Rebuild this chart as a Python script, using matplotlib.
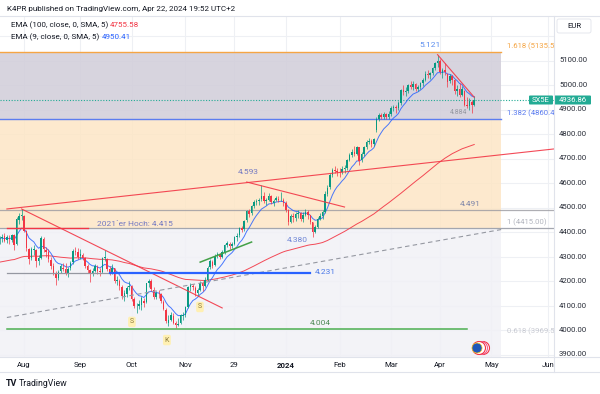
import numpy as np
import pandas as pd
import matplotlib
matplotlib.use('Agg')
import matplotlib.pyplot as plt
from matplotlib.patches import Circle, FancyBboxPatch, Rectangle
from matplotlib.lines import Line2D
from matplotlib.transforms import IdentityTransform, blended_transform_factory

plt.rcParams['font.family'] = ['Roboto', 'DejaVu Sans']

# ---------- SX5E daily candles, 18 Jul 2023 .. 22 Apr 2024 ----------
opens = [
    4365, 4374, 4382, 4366, 4375, 4368, 4386, 4350, 4448, 4466,  # Jul
    4466, 4404, 4330, 4292, 4325, 4328, 4282, 4295, 4372, 4325, 4318, 4285,
    4262, 4230, 4212, 4240, 4255, 4250, 4230, 4252, 4276, 4322, 4318,  # Aug
    4302, 4308, 4292, 4262, 4245, 4230, 4242, 4258, 4240, 4238, 4292, 4290,
    4248, 4238, 4252, 4200, 4200, 4176, 4140, 4148, 4175,  # Sep
    4178, 4125, 4098, 4100, 4102, 4120, 4115, 4190, 4200, 4165, 4135, 4148,
    4145, 4115, 4082, 4030, 4042, 4058, 4028, 4022, 4030, 4058,  # Oct
    4062, 4095, 4175, 4180, 4172, 4150, 4165, 4190, 4180, 4205, 4258, 4278,
    4265, 4302, 4308, 4298, 4318, 4345, 4352, 4342, 4352, 4378,  # Nov
    4388, 4418, 4412, 4448, 4485, 4478, 4508, 4522, 4528, 4535, 4548, 4525,
    4532, 4548, 4520, 4530, 4535, 4530, 4530,  # Dec
    4520, 4490, 4442, 4465, 4458, 4472, 4478, 4455, 4470, 4482, 4468, 4440,
    4402, 4420, 4455, 4465, 4482, 4555, 4582, 4632, 4652, 4650,  # Jan
    4642, 4645, 4658, 4662, 4695, 4715, 4728, 4720, 4745, 4692, 4718, 4745,
    4768, 4772, 4760, 4815, 4862, 4878, 4870, 4880, 4868,  # Feb
    4880, 4908, 4912, 4905, 4925, 4980, 4970, 4975, 5000, 4992, 5005, 4985,
    4990, 5008, 5020, 5045, 5040, 5048, 5068, 5088,  # Mar
    5098, 5050, 5060, 5045, 5015, 5038, 5020, 4975, 4985, 4960, 4975, 4920,
    4915, 4930, 4920,  # Apr
]
highs = [
    4385, 4392, 4396, 4388, 4386, 4392, 4392, 4462, 4478, 4494,
    4470, 4410, 4336, 4340, 4345, 4332, 4306, 4385, 4378, 4340, 4330, 4300,
    4272, 4240, 4245, 4268, 4275, 4272, 4258, 4282, 4330, 4340, 4335,
    4330, 4315, 4298, 4270, 4250, 4255, 4268, 4265, 4252, 4300, 4328, 4295,
    4262, 4268, 4255, 4222, 4210, 4182, 4162, 4178, 4198,
    4182, 4135, 4110, 4122, 4138, 4130, 4192, 4208, 4210, 4175, 4158, 4165,
    4150, 4122, 4090, 4060, 4072, 4068, 4038, 4050, 4065, 4072,
    4098, 4180, 4192, 4188, 4178, 4172, 4200, 4198, 4215, 4260, 4290, 4285,
    4310, 4318, 4315, 4325, 4352, 4362, 4358, 4360, 4385, 4395,
    4422, 4425, 4450, 4490, 4492, 4512, 4530, 4535, 4540, 4593, 4565, 4540,
    4560, 4552, 4535, 4548, 4545, 4565, 4540,
    4525, 4495, 4475, 4478, 4482, 4490, 4482, 4480, 4495, 4488, 4470, 4442,
    4430, 4462, 4478, 4490, 4568, 4590, 4640, 4660, 4668, 4662,
    4660, 4670, 4672, 4700, 4722, 4738, 4750, 4752, 4748, 4725, 4750, 4775,
    4782, 4780, 4785, 4868, 4885, 4885, 4890, 4885, 4895,
    4915, 4920, 4918, 4935, 4985, 4998, 4990, 5005, 5015, 5018, 5010, 5002,
    5012, 5028, 5058, 5060, 5055, 5075, 5095, 5121,
    5105, 5068, 5090, 5050, 5045, 5042, 5025, 5000, 5008, 4995, 4980, 4950,
    4945, 4940, 4955,
]
lows = [
    4352, 4360, 4358, 4355, 4350, 4360, 4326, 4345, 4432, 4450,
    4398, 4322, 4268, 4285, 4305, 4258, 4265, 4290, 4318, 4300, 4278, 4250,
    4225, 4182, 4205, 4232, 4240, 4225, 4218, 4245, 4270, 4305, 4290,
    4290, 4285, 4255, 4232, 4195, 4222, 4235, 4228, 4220, 4232, 4280, 4240,
    4225, 4230, 4190, 4185, 4165, 4128, 4120, 4135, 4165,
    4118, 4090, 4068, 4085, 4080, 4095, 4112, 4175, 4160, 4128, 4125, 4130,
    4110, 4080, 4030, 4018, 4035, 4025, 4010, 4015, 4025, 4040,
    4052, 4090, 4160, 4165, 4140, 4138, 4158, 4160, 4175, 4200, 4250, 4255,
    4260, 4295, 4288, 4292, 4312, 4338, 4330, 4335, 4345, 4365,
    4380, 4398, 4405, 4440, 4462, 4470, 4500, 4510, 4512, 4525, 4520, 4510,
    4528, 4515, 4508, 4525, 4522, 4525, 4508,
    4480, 4430, 4438, 4440, 4445, 4458, 4445, 4440, 4465, 4455, 4432, 4380,
    4395, 4415, 4448, 4455, 4478, 4545, 4575, 4625, 4640, 4630,
    4625, 4635, 4640, 4655, 4688, 4705, 4710, 4715, 4675, 4685, 4712, 4740,
    4760, 4745, 4752, 4810, 4855, 4860, 4862, 4860, 4860,
    4875, 4895, 4885, 4898, 4920, 4960, 4955, 4968, 4985, 4980, 4975, 4975,
    4982, 4995, 5015, 5030, 5025, 5042, 5060, 5075,
    5045, 5030, 5040, 4990, 5010, 5000, 4965, 4955, 4950, 4955, 4915, 4905,
    4900, 4884, 4915,
]
closes = [
    4374, 4380, 4364, 4378, 4370, 4386, 4345, 4452, 4466, 4471,
    4406, 4333, 4290, 4332, 4330, 4280, 4292, 4375, 4330, 4318, 4288, 4262,
    4232, 4212, 4238, 4260, 4248, 4232, 4250, 4275, 4322, 4318, 4300,
    4310, 4295, 4262, 4245, 4228, 4240, 4260, 4240, 4236, 4292, 4296, 4248,
    4235, 4255, 4198, 4206, 4178, 4140, 4150, 4172, 4180,
    4125, 4100, 4098, 4105, 4130, 4112, 4190, 4200, 4168, 4135, 4150, 4145,
    4118, 4085, 4035, 4042, 4060, 4030, 4020, 4025, 4060, 4062,
    4092, 4175, 4182, 4175, 4150, 4165, 4192, 4180, 4205, 4255, 4280, 4262,
    4302, 4310, 4298, 4318, 4345, 4355, 4342, 4350, 4378, 4385,
    4418, 4410, 4445, 4485, 4475, 4508, 4522, 4528, 4530, 4545, 4525, 4532,
    4548, 4522, 4528, 4538, 4530, 4532, 4518,
    4490, 4440, 4465, 4460, 4472, 4478, 4455, 4470, 4482, 4468, 4440, 4402,
    4420, 4455, 4465, 4480, 4555, 4580, 4632, 4652, 4650, 4645,
    4640, 4658, 4660, 4695, 4715, 4728, 4718, 4745, 4690, 4718, 4745, 4768,
    4772, 4760, 4780, 4862, 4878, 4870, 4880, 4868, 4880,
    4908, 4912, 4905, 4925, 4980, 4970, 4975, 5000, 4992, 5005, 4985, 4990,
    5008, 5020, 5045, 5040, 5048, 5068, 5088, 5098,
    5052, 5060, 5055, 5012, 5038, 5020, 4975, 4985, 4960, 4985, 4920, 4915,
    4935, 4918, 4936.86,
]
ema100_start = 4275   # EMA(100) level just before the first candle
last_price = 4936.86

# fibonacci extension levels
fib_levels = [5135.5, 4860.4, 4415.0, 3969.5]
fib_names = ['1.618 (5135.5)', '1.382 (4860.4)', '1 (4415.00)', '0.618 (3969.5)']
fib_end = '2024-05-07'

# drawings: (start date, start price, end date, end price)
red_trend = [('2023-07-21', 4494, '2024-06-14', 4746),
             ('2023-07-31', 4494, '2023-11-22', 4090),
             ('2023-12-06', 4604, '2024-02-05', 4502),
             ('2024-03-28', 5124, '2024-04-22', 4950)]
green_trend = ('2023-11-09', 4277, '2023-12-08', 4359)
dashed_trend = ('2023-07-21', 4051, '2024-05-07', 4410)
# horizontal segments: (start, end, level, colour, width)
h_segments = [('2023-07-21', '2023-09-06', 4415, '#f23645', 1.0),
              ('2023-07-21', '2023-09-19', 4231, '#9598a1', 0.9),
              ('2023-09-19', '2024-01-16', 4231, '#2962ff', 1.6),
              ('2023-07-21', '2024-04-17', 4004, '#4caf50', 1.1)]

# ---------- calendar (trading days) ----------
cal = pd.bdate_range('2023-07-18', '2024-06-30')
cal = cal.drop(pd.to_datetime(['2023-12-25', '2023-12-26', '2024-01-01',
                               '2024-03-29', '2024-04-01']))
n = len(closes)
assert len(opens) == len(highs) == len(lows) == n
pos = np.arange(n) - 10          # 1 Aug 2023 -> 0


def xpos(d):
    return int(np.searchsorted(cal, pd.Timestamp(d))) - 10


tick_dates = ['2023-08-01', '2023-09-01', '2023-10-01', '2023-11-01', '2023-11-29',
              '2024-01-01', '2024-02-01', '2024-03-01', '2024-04-01', '2024-05-01',
              '2024-06-01']
tick_labels = ['Aug', 'Sep', 'Oct', 'Nov', '29', '2024', 'Feb', 'Mar', 'Apr', 'May', 'Jun']

o = np.array(opens, float)
h = np.array(highs, float)
l = np.array(lows, float)
c = np.array(closes, float)
ema9 = pd.Series(c).ewm(span=9, adjust=False).mean().values
ema100 = pd.Series(np.r_[ema100_start, c]).ewm(span=100, adjust=False).mean().values[1:]

# ---------- figure ----------
W, H = 600, 394
fig = plt.figure(figsize=(6, 3.94), dpi=100)
fig.patch.set_facecolor('white')
top, bot, right = 16, 357, 554
ax = fig.add_axes([0, 1 - bot / H, right / W, (bot - top) / H])
y0, y1 = 4000 - (bot - 330) / 0.245, 4000 + (330 - top) / 0.245
ax.set_xlim(-9.81, 216.6)
ax.set_ylim(y0, y1)
for s in ax.spines.values():
    s.set_visible(False)

ticks = [xpos(d) for d in tick_dates]
ax.set_xticks(ticks)
ax.set_xticklabels(tick_labels, fontsize=5.6, color='#131722')
ax.get_xticklabels()[5].set_fontweight('bold')
ax.set_yticks(np.arange(3900, 5201, 100))
ax.tick_params(length=0, labelleft=False, pad=3.5)
ax.grid(True, color='#eef0f4', lw=0.8, zorder=0)
ax.set_axisbelow(True)

# fib zones
xl = ax.get_xlim()[0]
fe = xpos(fib_end)
ax.add_patch(Rectangle((xl, fib_levels[1]), fe - xl, fib_levels[0] - fib_levels[1],
                       fc='#d1cdd9', ec='none', alpha=0.85, zorder=1))
ax.add_patch(Rectangle((xl, fib_levels[2]), fe - xl, fib_levels[1] - fib_levels[2],
                       fc='#fde6c6', ec='none', alpha=0.85, zorder=1))
ax.add_patch(Rectangle((xl, y0 - 50), fe - xl, fib_levels[2] - y0 + 50,
                       fc='#f1f1f6', ec='none', alpha=0.85, zorder=1))
ax.plot([xl, fe], [fib_levels[0]] * 2, color='#f5a544', lw=1.0, zorder=2)
ax.plot([xl, fe], [fib_levels[1]] * 2, color='#5b7cf0', lw=1.0, zorder=2)
ax.axhline(fib_levels[2], color='#a3a6af', lw=0.9, zorder=2)
ax.axhline(4491, color='#9a9aa0', lw=0.9, alpha=0.8, zorder=2)
fib_colors = ['#f5a544', '#5b7cf0', '#b2b5be', '#c8cad2']
for lv, name, col in zip(fib_levels, fib_names, fib_colors):
    ax.text(197.4, lv + 25, name, fontsize=5.6, color=col, va='center', ha='left',
            clip_on=True, zorder=6)

# current price line
ax.axhline(last_price, color='#22ab94', lw=0.8, ls=(0, (1, 1.5)), zorder=2)

# EMAs
ax.plot(pos, ema100, color='#f23645', lw=0.7, alpha=0.9, zorder=3)
ax.plot(pos, ema9, color='#2962ff', lw=0.7, alpha=0.85, zorder=3)

# candles
up = c >= o
cols = np.where(up, '#089981', '#f23645')
ax.vlines(pos, l, h, colors=cols, lw=0.5, zorder=4)
ax.bar(pos, np.maximum(np.abs(c - o), 1.5), bottom=np.minimum(o, c), width=0.62,
       color=cols, linewidth=0, zorder=4)

# drawings
for d0, p0, d1, p1 in red_trend:
    ax.plot([xpos(d0), xpos(d1)], [p0, p1], color='#f23645', lw=0.8, alpha=0.9, zorder=5)
d0, p0, d1, p1 = green_trend
ax.plot([xpos(d0), xpos(d1)], [p0, p1], color='#43a047', lw=1.1, zorder=5)
d0, p0, d1, p1 = dashed_trend
ax.plot([xpos(d0), xpos(d1)], [p0, p1], color='#9598a1', lw=0.8, ls=(0, (4, 3)), zorder=5)
for d0, d1, lv, col, lw in h_segments:
    ax.plot([xpos(d0), xpos(d1)], [lv, lv], color=col, lw=lw, zorder=5)

# labels on the chart
lab = dict(fontsize=6, ha='center', va='center', zorder=6)
ax.text(165.9, 5163, '5.121', color='#5b8def', **lab)
ax.text(91.5, 4645, '4.593', color='#7379c2', **lab)
ax.text(111.6, 4367, '4.380', color='#6f86d6', **lab)
ax.text(182.3, 4514, '4.491', color='#7d85a8', **lab)
ax.text(123.0, 4237, '4.231', color='#4a78e8', **lab)
ax.text(121.0, 4029, '4.004', color='#4e8a55', **lab)
ax.text(45.4, 4433, '2021\u00b4er Hoch: 4.415', color='#7379c2', **lab)
ax.text(177.8, 4886, '4.884', color='#9598a1', fontsize=5, ha='center', va='center', zorder=6)
mk = dict(fontsize=5, color='#8c7b3c', ha='center', va='center', zorder=6,
          bbox=dict(boxstyle='round,pad=0.25', fc='#fff0b3', ec='none'))
ax.text(44.1, 4033, 'S', **mk)
ax.text(71.9, 4094, 'S', **mk)
ax.text(58.4, 3959, 'K', **mk)

# ---------- price scale ----------
pax = fig.add_axes([right / W, 1 - bot / H, (W - right) / W, (bot - top) / H])
pax.set_ylim(y0, y1)
pax.set_xlim(0, 1)
pax.axis('off')
tr = blended_transform_factory(pax.transAxes, pax.transData)
for lv in range(3900, 5101, 100):
    pax.text(0.11, lv, f'{lv:.2f}', transform=tr, fontsize=5.6, color='#2a2e39',
             va='center', ha='left', clip_on=True)


def pbox(x, y, w, hh, fc, ec='none', r=1.5):
    fig.add_artist(FancyBboxPatch((x, H - y - hh), w, hh, boxstyle=f'round,pad=0,rounding_size={r}',
                                  fc=fc, ec=ec, lw=0.6, transform=IdentityTransform()))


def ftext(px, py, s, **kw):
    fig.text(px / W, 1 - py / H, s, **kw)


pbox(557, 19, 34, 14, 'white', '#e0e3eb', 2)
ftext(574, 26, 'EUR', fontsize=5.6, color='#131722', ha='center', va='center')
pbox(529, 95.5, 24, 9, '#22ab94', r=1)
ftext(541, 100, 'SX5E', fontsize=5.5, color='white', ha='center', va='center')
pbox(554, 95.5, 37, 9, '#22ab94', r=1)
ftext(559, 100, f'{last_price:.2f}', fontsize=5.6, color='white', ha='left', va='center')

# frame lines
for yy in (top, bot, 372):
    fig.add_artist(Line2D([0, 1], [1 - yy / H] * 2, transform=fig.transFigure,
                          color='#e0e3eb', lw=0.8))
fig.add_artist(Line2D([right / W] * 2, [1 - top / H, 1 - 372 / H], transform=fig.transFigure,
                      color='#e0e3eb', lw=0.8))

# header / legend
ftext(7, 9, 'K4PR published on TradingView.com, Apr 22, 2024 19:52 UTC+2',
      fontsize=5.8, color='#131722', va='center')
ftext(11, 25, 'EMA (100, close, 0, SMA, 5)', fontsize=5.8, color='#131722', va='center')
ftext(110, 25, '4755.58', fontsize=5.8, color='#f23645', va='center')
ftext(11, 37, 'EMA (9, close, 0, SMA, 5)', fontsize=5.8, color='#131722', va='center')
ftext(102, 37, '4950.41', fontsize=5.8, color='#2962ff', va='center')
ftext(6, 383, 'TV', fontsize=6.5, color='#131722', fontweight='bold', va='center')
ftext(19, 383, 'TradingView', fontsize=6.3, color='#131722', va='center')

# EU flag icon
for dx, col in ((5, '#f23645'), (3, '#f06292'), (1, '#f23645')):
    fig.add_artist(Circle((478 + dx, H - 348), 6.5, fc='white', ec=col, lw=0.8,
                          transform=IdentityTransform()))
fig.add_artist(Circle((477, H - 348), 5, fc='#1f56b8', ec='#f5c518', lw=0.5,
                      transform=IdentityTransform()))

fig.savefig('out.png', dpi=100)
